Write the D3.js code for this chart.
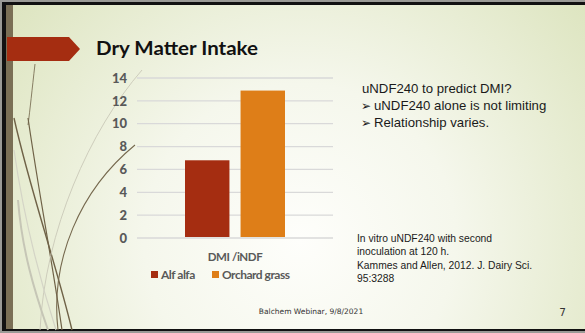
<!DOCTYPE html>
<html>
<head>
<meta charset="utf-8">
<script src="https://cdn.jsdelivr.net/npm/d3@7"></script>
<style>
    html, body { margin: 0; padding: 0; background: #fff; }
    #visual-container { width: 585px; height: 333px; }
</style>
</head>
<body>
<div id="visual-container"></div>
<script>
// Chart data
const categories = ["DMI /iNDF"];
const seriesNames = ["Alf alfa", "Orchard grass"];
const seriesValues = [6.8, 12.9];
const seriesColors = ["#a52d11", "#de7e18"];
const yTicks = [0, 2, 4, 6, 8, 10, 12, 14];

const titleText = "Dry Matter Intake";
const sideLines = ["uNDF240 to predict DMI?", "uNDF240 alone is not limiting", "Relationship varies."];
const noteLines = ["In vitro uNDF240 with second", "inoculation at 120 h.", "Kammes and Allen, 2012. J. Dairy Sci.", "95:3288"];
const footerText = "Balchem Webinar, 9/8/2021";
const pageNumber = "7";

const width = 585, height = 333;

const svg = d3.select("#visual-container").append("svg")
    .attr("width", width)
    .attr("height", height)
    .attr("viewBox", `0 0 ${width} ${height}`);

drawSlide();
drawChart();
drawTexts();

function drawSlide() {
    const defs = svg.append("defs");
    const bg = defs.append("radialGradient")
        .attr("id", "bg")
        .attr("gradientUnits", "userSpaceOnUse")
        .attr("cx", 300).attr("cy", 240).attr("r", 390);
    bg.append("stop").attr("offset", 0).attr("stop-color", "#fefefb");
    bg.append("stop").attr("offset", 0.4).attr("stop-color", "#f5f7ec");
    bg.append("stop").attr("offset", 1).attr("stop-color", "#dbe3bc");

    // outer frame
    svg.append("rect").attr("width", width).attr("height", height).attr("fill", "#9a9a96");
    svg.append("rect").attr("x", 2).attr("y", 2).attr("width", width - 2).attr("height", height - 4).attr("fill", "#111");
    svg.append("rect").attr("x", 6).attr("y", 5).attr("width", width - 6).attr("height", height - 9).attr("fill", "url(#bg)");
    svg.append("rect").attr("x", 6).attr("y", 5).attr("width", 7).attr("height", height - 9).attr("fill", "#7a6f55");

    // wisp curves on the left
    const wisps = [
        { d: "M14,118 C30,190 55,260 72,330", c: "#6f6247", w: 1.4 },
        { d: "M28,118 C40,200 52,260 62,330", c: "#6f6247", w: 1.2 },
        { d: "M35,64 C32,90 30,110 28,125", c: "#6f6247", w: 0.8 },
        { d: "M58,330 C50,260 80,190 135,145", c: "#76694e", w: 1.1 },
        { d: "M40,330 C45,230 90,130 142,70", c: "#c9c8b8", w: 0.9 },
        { d: "M18,200 C22,250 34,290 48,330", c: "#c6c6b6", w: 2 },
        { d: "M14,150 C24,220 40,280 56,330", c: "#d4d4c6", w: 1.2 }
    ];
    svg.append("g").selectAll("path")
        .data(wisps)
        .join("path")
        .attr("d", d => d.d)
        .attr("fill", "none")
        .attr("stroke", d => d.c)
        .attr("stroke-width", d => d.w);

    // title banner arrow
    svg.append("path")
        .attr("d", "M7,37 L69,37 L80,49 L69,61 L7,61 Z")
        .attr("fill", "#a52d11");

    const title = svg.append("text")
        .attr("x", 96)
        .attr("y", 55)
        .attr("font-family", "Lato, 'DejaVu Sans', sans-serif")
        .attr("font-weight", "bold")
        .attr("font-size", 18)
        .attr("fill", "#111")
        .text(titleText);
    title.attr("textLength", 162).attr("lengthAdjust", "spacingAndGlyphs");
}

function drawChart() {
    const plot = { left: 137, right: 333, top: 78, bottom: 238 };

    const y = d3.scaleLinear()
        .domain([0, 14])
        .range([plot.bottom, plot.top]);

    const x0 = d3.scaleBand()
        .domain(categories)
        .range([plot.left, plot.right])
        .paddingInner(0)
        .paddingOuter(0.48);

    const x1 = d3.scaleBand()
        .domain(seriesNames)
        .range([0, x0.bandwidth()])
        .paddingInner(0.2);

    const color = d3.scaleOrdinal()
        .domain(seriesNames)
        .range(seriesColors);

    // gridlines
    svg.append("g").selectAll("line")
        .data(yTicks)
        .join("line")
        .attr("x1", plot.left)
        .attr("x2", plot.right)
        .attr("y1", d => y(d))
        .attr("y2", d => y(d))
        .attr("stroke", "#d9d9d9")
        .attr("stroke-width", 1.3);

    // y axis labels
    const yAxis = svg.append("g")
        .attr("transform", `translate(${plot.left - 4},0)`)
        .call(d3.axisLeft(y).tickValues(yTicks).tickSize(0).tickPadding(6));
    yAxis.select(".domain").remove();
    yAxis.selectAll("text")
        .attr("font-family", "Lato, 'DejaVu Sans', sans-serif")
        .attr("font-weight", 900)
        .attr("font-size", 13)
        .attr("fill", "#595959");

    // bars
    const bars = categories.map((cat, ci) => seriesNames.map((s, si) => ({
        category: cat, series: s, value: seriesValues[si]
    })));
    svg.append("g").selectAll("g")
        .data(bars)
        .join("g")
        .attr("transform", (d, i) => `translate(${x0(categories[i])},0)`)
        .selectAll("rect")
        .data(d => d)
        .join("rect")
        .attr("x", d => x1(d.series))
        .attr("y", d => y(d.value))
        .attr("width", x1.bandwidth())
        .attr("height", d => y(0) - y(d.value) - 1)
        .attr("fill", d => color(d.series));

    // category label
    svg.append("g").selectAll("text")
        .data(categories)
        .join("text")
        .attr("x", d => x0(d) + x0.bandwidth() / 2)
        .attr("y", 261)
        .attr("text-anchor", "middle")
        .attr("font-family", "Lato, 'DejaVu Sans', sans-serif")
        .attr("font-weight", "bold")
        .attr("font-size", 11.5)
        .attr("letter-spacing", -0.4)
        .attr("fill", "#595959")
        .text(d => d);

    // legend
    const legendX = [151, 212];
    const legend = svg.append("g").selectAll("g")
        .data(seriesNames)
        .join("g")
        .attr("transform", (d, i) => `translate(${legendX[i]},271)`);
    legend.append("rect")
        .attr("width", 7)
        .attr("height", 7)
        .attr("fill", d => color(d));
    legend.append("text")
        .attr("x", 10)
        .attr("y", 8)
        .attr("font-family", "Lato, 'DejaVu Sans', sans-serif")
        .attr("font-weight", "bold")
        .attr("font-size", 12)
        .attr("letter-spacing", -0.5)
        .attr("fill", "#595959")
        .text(d => d);
}

function drawTexts() {
    const side = svg.append("g")
        .attr("font-family", "'Liberation Sans', Arial, sans-serif")
        .attr("font-size", 13.2)
        .attr("fill", "#1a1a1a");
    side.append("text").attr("x", 362).attr("y", 93).text(sideLines[0]);
    sideLines.slice(1).forEach((line, i) => {
        const yy = 110 + i * 17;
        side.append("text")
            .attr("x", 361).attr("y", yy)
            .attr("font-family", "'DejaVu Sans', sans-serif")
            .attr("font-size", 12)
            .text("\u27A2");
        side.append("text").attr("x", 374).attr("y", yy).text(line);
    });

    svg.append("g")
        .attr("font-family", "'Liberation Sans', Arial, sans-serif")
        .attr("font-size", 10.3)
        .attr("fill", "#1a1a1a")
        .selectAll("text")
        .data(noteLines)
        .join("text")
        .attr("x", 357)
        .attr("y", (d, i) => 242 + i * 13.3)
        .text(d => d);

    svg.append("text")
        .attr("x", 311)
        .attr("y", 314)
        .attr("text-anchor", "middle")
        .attr("font-family", "'DejaVu Sans', sans-serif")
        .attr("font-size", 7.5)
        .attr("fill", "#333")
        .text(footerText);

    svg.append("text")
        .attr("x", 566)
        .attr("y", 316)
        .attr("text-anchor", "end")
        .attr("font-family", "'DejaVu Sans', sans-serif")
        .attr("font-size", 10.5)
        .attr("fill", "#333")
        .text(pageNumber);
}
</script>
</body>
</html>
